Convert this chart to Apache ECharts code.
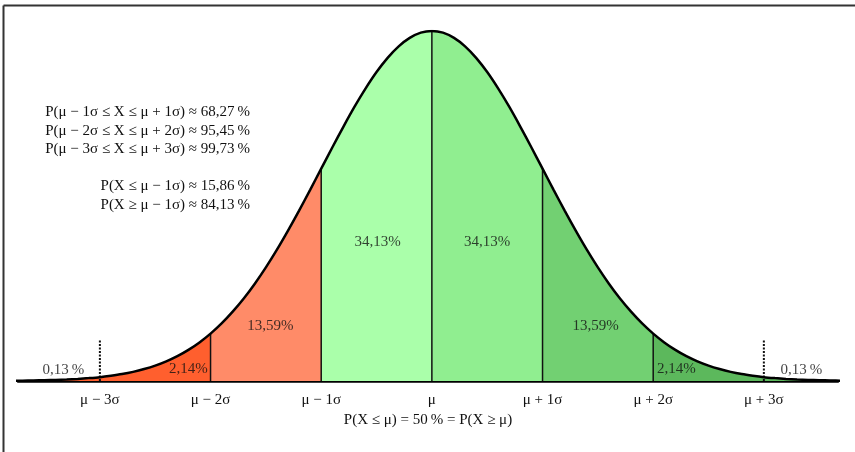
<!DOCTYPE html>
<html>
<head>
<meta charset="utf-8">
<script src="https://cdn.jsdelivr.net/npm/echarts@6/dist/echarts.min.js"></script>
<style>
html,body{margin:0;padding:0;background:#fff;}
#c{width:855px;height:452px;}
</style>
</head>
<body>
<div id="c"></div>
<script>
// x positions in units of sigma (step 0.1), density values
var xs = [-3.8,-3.7,-3.6,-3.5,-3.4,-3.3,-3.2,-3.1,-3.0,-2.9,-2.8,-2.7,-2.6,-2.5,-2.4,-2.3,-2.2,-2.1,-2.0,-1.9,-1.8,-1.7,-1.6,-1.5,-1.4,-1.3,-1.2,-1.1,-1.0,-0.9,-0.8,-0.7,-0.6,-0.5,-0.4,-0.3,-0.2,-0.1,0.0,0.1,0.2,0.3,0.4,0.5,0.6,0.7,0.8,0.9,1.0,1.1,1.2,1.3,1.4,1.5,1.6,1.7,1.8,1.9,2.0,2.1,2.2,2.3,2.4,2.5,2.6,2.7,2.8,2.9,3.0,3.1,3.2,3.3,3.4,3.5,3.6,3.7,3.8];
var density = [0.0003,0.0004,0.0006,0.0009,0.0012,0.0017,0.0024,0.0033,0.0044,0.0060,0.0079,0.0104,0.0136,0.0175,0.0224,0.0283,0.0355,0.0440,0.0540,0.0656,0.0790,0.0940,0.1109,0.1295,0.1497,0.1714,0.1942,0.2179,0.2420,0.2661,0.2897,0.3123,0.3332,0.3521,0.3683,0.3814,0.3910,0.3970,0.3989,0.3970,0.3910,0.3814,0.3683,0.3521,0.3332,0.3123,0.2897,0.2661,0.2420,0.2179,0.1942,0.1714,0.1497,0.1295,0.1109,0.0940,0.0790,0.0656,0.0540,0.0440,0.0355,0.0283,0.0224,0.0175,0.0136,0.0104,0.0079,0.0060,0.0044,0.0033,0.0024,0.0017,0.0012,0.0009,0.0006,0.0004,0.0003];
var regionBounds = [-3.8,-3,-2,-1,0,1,2,3,3.8];
var regionPercents = ["0,13\u2009%","2,14%","13,59%","34,13%","34,13%","13,59%","2,14%","0,13\u2009%"];
var tickValues = [-3,-2,-1,0,1,2,3];
var tickLabels = ["\u03bc \u2212 3\u03c3","\u03bc \u2212 2\u03c3","\u03bc \u2212 1\u03c3","\u03bc","\u03bc + 1\u03c3","\u03bc + 2\u03c3","\u03bc + 3\u03c3"];
var summaryLines = [
  "P(\u03bc \u2212 1\u03c3 \u2264 X \u2264 \u03bc + 1\u03c3) \u2248 68,27\u2009%",
  "P(\u03bc \u2212 2\u03c3 \u2264 X \u2264 \u03bc + 2\u03c3) \u2248 95,45\u2009%",
  "P(\u03bc \u2212 3\u03c3 \u2264 X \u2264 \u03bc + 3\u03c3) \u2248 99,73\u2009%"
];
var tailLines = [
  "P(X \u2264 \u03bc \u2212 1\u03c3) \u2248 15,86\u2009%",
  "P(X \u2265 \u03bc \u2212 1\u03c3) \u2248 84,13\u2009%"
];
var medianText = "P(X \u2264 \u03bc) = 50\u2009% = P(X \u2265 \u03bc)";

var regionColors = ['#FF5F2E','#FF5F2E','#FF8B68','#AAFFAA','#90EE90','#72D072','#5CB85C','#5CB85C'];
// label anchor points (in data units)
var labelX = [-3.33,-2.2,-1.46,-0.49,0.5,1.48,2.21,3.34];
var labelY = [0.0125,0.0136,0.0625,0.158,0.158,0.0625,0.0136,0.0125];

var FONT = '"Liberation Serif","Times New Roman",serif';
var TXT = '#111';
var FS = 15;

var pts = xs.map(function(x,i){return [x,density[i]];});
function densAt(x){
  for (var i=0;i<xs.length;i++){ if (Math.abs(xs[i]-x)<1e-6) return density[i]; }
  return 0;
}

var series = [];
for (var r=0;r<regionBounds.length-1;r++){
  var a=regionBounds[r], b=regionBounds[r+1];
  var d = pts.filter(function(p){return p[0]>=a-1e-6 && p[0]<=b+1e-6;});
  series.push({type:'line', data:d, smooth:0.3, symbol:'none', silent:true,
    lineStyle:{width:0}, areaStyle:{color:regionColors[r], opacity:1}, z:1});
}
// boundary verticals
[-2,-1,0,1,2].forEach(function(x){
  series.push({type:'line', data:[[x,0],[x,densAt(x)]], symbol:'none', silent:true,
    lineStyle:{color:'#111', width:1.5}, z:2});
});
// dotted markers at ±3σ
[-3,3].forEach(function(x){
  series.push({type:'line', data:[[x,0],[x,0.047]], symbol:'none', silent:true,
    lineStyle:{color:'#111', width:2, type:[2,1.5]}, z:3});
});
// main curve
series.push({type:'line', data:pts, smooth:0.3, symbol:'none', silent:true,
  lineStyle:{color:'#000', width:2.5}, z:4});
// percent labels
series.push({type:'scatter', symbolSize:0, silent:true, z:5,
  data: regionPercents.map(function(t,i){return {value:[labelX[i],labelY[i]], name:t};}),
  label:{show:true, position:'inside', formatter:function(p){return p.name;},
    fontFamily:FONT, fontSize:FS, color:TXT}});

var graphics = [];
summaryLines.forEach(function(t,i){
  graphics.push({type:'text', right:605, top:105+i*18.5, style:{text:t, font:FS+'px '+FONT, fill:TXT}});
});
tailLines.forEach(function(t,i){
  graphics.push({type:'text', right:605, top:179+i*18.5, style:{text:t, font:FS+'px '+FONT, fill:TXT}});
});
// frame lines (top and left)
graphics.push({type:'line', shape:{x1:3.5,y1:5.5,x2:855,y2:5.5}, style:{stroke:'#333', lineWidth:2}});
graphics.push({type:'line', shape:{x1:3.5,y1:5.5,x2:3.5,y2:452}, style:{stroke:'#333', lineWidth:2}});

var chart = echarts.init(document.getElementById('c'), null, {renderer:'canvas'});
chart.setOption({
  backgroundColor:'#fff',
  animation:false,
  grid:{left:18, right:17, top:31, bottom:71},
  xAxis:{type:'value', min:-3.74, max:3.67,
    name: medianText, nameLocation:'middle', nameGap:32,
    nameTextStyle:{fontFamily:FONT, fontSize:FS, color:TXT},
    axisLine:{show:true, onZero:false, lineStyle:{color:'#000', width:2.5}},
    axisTick:{show:false},
    splitLine:{show:false},
    axisLabel:{customValues:tickValues, margin:12, fontFamily:FONT, fontSize:FS, color:TXT,
      formatter:function(v){ var i = tickValues.indexOf(Math.round(v)); return i>=0?tickLabels[i]:''; }}
  },
  yAxis:{type:'value', min:0, max:0.3989, show:false, splitLine:{show:false}},
  series:series,
  graphic:graphics
});
</script>
</body>
</html>
